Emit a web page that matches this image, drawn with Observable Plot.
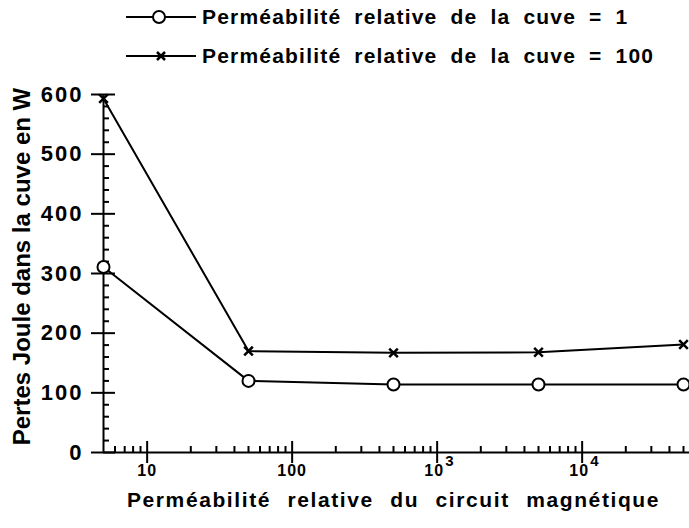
<!DOCTYPE html>
<html><head><meta charset="utf-8">
<script src="https://cdn.jsdelivr.net/npm/d3@7"></script>
<script src="https://cdn.jsdelivr.net/npm/@observablehq/plot@0.6"></script>
<style>
body{margin:0;background:#fff;font-family:"Liberation Sans",Arial,sans-serif;}
#legend{position:relative;height:75px;width:689px;}
.row{position:absolute;left:126px;height:30px;display:flex;align-items:center;font-weight:bold;font-size:21px;letter-spacing:1.2px;word-spacing:6px;color:#000;white-space:nowrap;}
.row svg{margin-right:4px;}
#chart svg{overflow:visible;}
</style>
</head><body>
<div id="legend"></div>
<div id="chart"></div>
<script>
const xValues = [5, 50, 500, 5000, 50000];
const seriesNames = ["Perméabilité relative de la cuve = 1", "Perméabilité relative de la cuve = 100"];
const lossesCuve1 = [311, 120, 114, 114, 114];
const lossesCuve100 = [593, 170, 167, 168, 181];
const xMajorTicks = [10, 100, 1000, 10000];
const xTickBase = ["10", "100", "10", "10"];
const xTickExp = ["", "", "3", "4"];
const yMajorTicks = [0, 100, 200, 300, 400, 500, 600];
const yTickLabels = ["0", "100", "200", "300", "400", "500", "600"];
const xTitle = "Perméabilité relative du circuit magnétique";
const yTitle = "Pertes Joule dans la cuve en W";

const xMinorTicks = [];
for (const p of [1, 10, 100, 1000, 10000]) for (let k = 2; k <= 9; k++) { const v = k * p; if (v > 5 && v <= 55000 && !xMajorTicks.includes(v)) xMinorTicks.push(v); }
const yMinorTicks = d3.range(20, 600, 20).filter(v => v % 100 !== 0);

const data = [];
xValues.forEach((x, i) => {
  data.push({series: seriesNames[0], x, y: lossesCuve1[i]});
  data.push({series: seriesNames[1], x, y: lossesCuve100[i]});
});
const d1 = data.filter(d => d.series === seriesNames[0]);
const d2 = data.filter(d => d.series === seriesNames[1]);
const ticks = xMajorTicks.map((v, i) => ({v, base: xTickBase[i], exp: xTickExp[i]}));
const plainTicks = ticks.filter(t => !t.exp);
const powTicks = ticks.filter(t => t.exp);
const yTicks = yMajorTicks.map((v, i) => ({v, label: yTickLabels[i]}));

// Legend
const legend = d3.select("#legend");
seriesNames.forEach((name, i) => {
  const row = legend.append("div").attr("class", "row").style("top", (i === 0 ? 2 : 41) + "px");
  const s = row.append("svg").attr("width", 72).attr("height", 30);
  s.append("line").attr("x1", 0).attr("x2", 70).attr("y1", 15).attr("y2", 15).attr("stroke", "#000").attr("stroke-width", 2);
  if (i === 0) s.append("circle").attr("cx", 33).attr("cy", 15).attr("r", 6).attr("fill", "#fff").attr("stroke", "#000").attr("stroke-width", 2);
  else s.append("path").attr("d", "M31,11L39,19M31,19L39,11").attr("stroke", "#000").attr("stroke-width", 2.5);
  row.append("span").text(name);
});

const chart = Plot.plot({
  width: 689, height: 453,
  marginTop: 19, marginBottom: 76, marginLeft: 103, marginRight: 0,
  x: {type: "log", domain: [5, 55000]},
  y: {domain: [0, 600]},
  style: {fontFamily: "'Liberation Sans', Arial, sans-serif", color: "#000", background: "#fff"},
  marks: [
    Plot.ruleY([0], {stroke: "#000", strokeWidth: 2}),
    Plot.ruleX([5], {stroke: "#000", strokeWidth: 2}),
    Plot.axisX(xMajorTicks, {tickSize: 11, strokeWidth: 2, tickFormat: () => "", label: null}),
    Plot.axisX(xMajorTicks, {tickSize: -11, strokeWidth: 2, tickFormat: () => "", label: null}),
    Plot.axisX(xMinorTicks, {tickSize: -6, strokeWidth: 2, tickFormat: () => "", label: null}),
    Plot.text(plainTicks, {x: "v", text: "base", frameAnchor: "bottom", lineAnchor: "middle", dy: 18, fontSize: 16, fontWeight: "bold"}),
    Plot.text(powTicks, {x: "v", text: "base", frameAnchor: "bottom", textAnchor: "end", lineAnchor: "middle", dx: 7, dy: 18, fontSize: 16, fontWeight: "bold"}),
    Plot.text(powTicks, {x: "v", text: "exp", frameAnchor: "bottom", textAnchor: "start", lineAnchor: "middle", dx: 8, dy: 9, fontSize: 15, fontWeight: "bold"}),
    Plot.axisY(yMajorTicks, {tickSize: 12, strokeWidth: 2, tickFormat: () => "", label: null}),
    Plot.axisY(yMajorTicks, {tickSize: -12, strokeWidth: 2, tickFormat: () => "", label: null}),
    Plot.axisY(yMinorTicks, {tickSize: -6, strokeWidth: 2, tickFormat: () => "", label: null}),
    Plot.text(yTicks, {y: "v", text: "label", frameAnchor: "left", textAnchor: "end", lineAnchor: "middle", dx: -20, fontSize: 22, fontWeight: "bold"}),
    Plot.line(d1, {x: "x", y: "y", stroke: "#000", strokeWidth: 2}),
    Plot.line(d2, {x: "x", y: "y", stroke: "#000", strokeWidth: 2}),
    Plot.dot(d1, {x: "x", y: "y", r: 6, symbol: "circle", stroke: "#000", fill: "#fff", strokeWidth: 2}),
    Plot.dot(d2, {x: "x", y: "y", r: 4, symbol: "times", stroke: "#000", strokeWidth: 2.5}),
    Plot.text([xTitle], {text: d => d, frameAnchor: "bottom", lineAnchor: "middle", dy: 48, dx: -3, fontSize: 21, fontWeight: "bold"}),
    Plot.text([yTitle], {text: d => d, frameAnchor: "left", textAnchor: "middle", lineAnchor: "middle", rotate: -90, dx: -81, dy: -7, fontSize: 24, fontWeight: "bold"})
  ]
});
document.getElementById("chart").appendChild(chart);
const c = d3.select(chart);
c.selectAll("g[font-size='22'] text").style("letter-spacing", "2px");
c.selectAll("g[font-size='16'] text").style("letter-spacing", "1px");
c.selectAll("g[font-size='21'] text").style("letter-spacing", "1.6px").style("word-spacing", "9px");
</script>
</body></html>
